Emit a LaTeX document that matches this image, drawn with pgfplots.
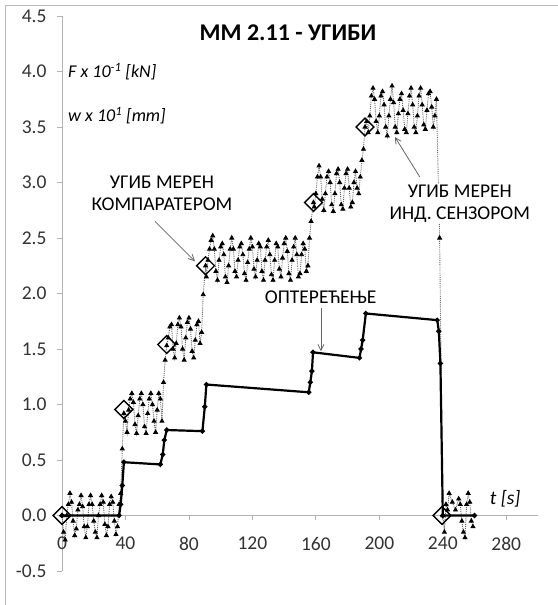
\documentclass[border=0pt]{standalone}
\usepackage{pgfplots}
\pgfplotsset{compat=1.18}
\usepackage{fontspec}
\setmainfont{Carlito}
\usetikzlibrary{arrows.meta}
\pgfplotstableread{
t v
0 0
36 0
37 0.1
38 0.27
39 0.48
62 0.46
63.5 0.55
64.5 0.68
66 0.77
88.5 0.76
90 0.98
91 1.18
155.5 1.11
156.5 1.2
157.5 1.3
158.2 1.47
187.5 1.42
188.5 1.5
189.5 1.58
191.5 1.82
236.5 1.76
237.5 1.66
238.5 1.37
240 0
260 0
}\load
\pgfplotstableread{
t v
0 0
39 0.955
66 1.54
90.5 2.25
158.5 2.82
191 3.50
239.5 0
}\comp
\pgfplotstableread{
t v
0 0.0
1 -0.15
2 -0.22
3 0.0
4 0.1
5 0.2
6 0.12
7 -0.05
8 -0.18
9 -0.12
10 0.05
11 0.1
12 0.18
13 0.08
14 -0.1
15 -0.2
16 -0.1
17 0.1
18 0.18
19 0.1
20 -0.05
21 -0.15
22 -0.2
23 0.0
24 0.1
25 0.18
26 0.12
27 -0.08
28 -0.18
29 -0.1
30 0.1
31 0.17
32 0.12
33 -0.05
34 -0.17
35 -0.1
36 0.1
37 0.2
38 0.6
39 0.92
40 0.85
41 0.75
42 0.95
43 1.05
44 1.1
45 1.02
46 0.82
47 0.74
48 0.9
49 1.05
50 1.1
51 1.0
52 0.8
53 0.74
54 0.92
55 1.05
56 1.1
57 1.0
58 0.85
59 0.75
60 0.95
61 1.1
62 1.05
63 0.85
64 1.2
65 1.4
66 1.53
67 1.6
68 1.7
69 1.72
70 1.5
71 1.42
72 1.55
73 1.72
74 1.78
75 1.7
76 1.5
77 1.4
78 1.6
79 1.74
80 1.78
81 1.68
82 1.48
83 1.42
84 1.58
85 1.72
86 1.75
87 1.55
88 1.65
89 1.99
90.5 2.25
91 2.15
92 2.3
93 2.4
94 2.48
95 2.52
96 2.4
97 2.2
98 2.12
99 2.3
100 2.42
101 2.45
102 2.35
103 2.15
104 2.1
105 2.25
106 2.4
107 2.5
108 2.4
109 2.2
110 2.15
111 2.3
112 2.42
113 2.45
114 2.35
115 2.18
116 2.12
117 2.28
118 2.4
119 2.5
120 2.42
121 2.22
122 2.15
123 2.3
124 2.45
125 2.42
126 2.2
127 2.12
128 2.3
129 2.42
130 2.48
131 2.35
132 2.17
133 2.12
134 2.3
135 2.45
136 2.42
137 2.22
138 2.15
139 2.32
140 2.45
141 2.5
142 2.38
143 2.18
144 2.12
145 2.3
146 2.42
147 2.5
148 2.35
149 2.15
150 2.18
151 2.35
152 2.45
153 2.4
154 2.2
155 2.25
156 2.5
157 2.65
158.5 2.82
159 2.78
160 2.9
161 3.05
162 3.15
163 3.05
164 2.85
165 2.75
166 2.9
167 3.05
168 3.1
169 3.0
170 2.8
171 2.74
172 2.9
173 3.08
174 3.12
175 3.0
176 2.8
177 2.76
178 2.95
179 3.08
180 3.12
181 2.95
182 2.78
183 2.82
184 3.0
185 3.1
186 2.95
187 2.9
188 3.05
189 3.2
190 3.3
191 3.5
192 3.55
193 3.45
194 3.6
195 3.78
196 3.85
197 3.75
198 3.55
199 3.45
200 3.6
201 3.78
202 3.82
203 3.7
204 3.5
205 3.42
206 3.6
207 3.75
208 3.87
209 3.72
210 3.5
211 3.45
212 3.62
213 3.75
214 3.8
215 3.65
216 3.48
217 3.45
218 3.62
219 3.78
220 3.85
221 3.7
222 3.5
223 3.45
224 3.6
225 3.78
226 3.85
227 3.7
228 3.52
229 3.48
230 3.65
231 3.8
232 3.82
233 3.68
234 3.5
235 3.6
236 3.75
238 2.5
240 0
241 -0.15
242 0.1
243 0.05
244 0.2
246 0.12
248 0.05
250 0.15
251 0.1
252 -0.05
253 -0.15
254 -0.2
255 0.1
256 0.2
257 0.12
258 -0.05
259 -0.1
}\sensor
\begin{document}
\begin{tikzpicture}
\useasboundingbox (0,0) rectangle (558bp,605bp);
\draw[gray!55, line width=0.8bp] (5bp,-20bp) rectangle (620bp,600bp);
\begin{axis}[
  at={(62bp,34bp)}, anchor=south west,
  scale only axis, width=476bp, height=555bp,
  xmin=0, xmax=300, ymin=-0.5, ymax=4.5,
  axis x line=middle, axis y line=left,
  hide obscured x ticks=false, hide obscured y ticks=false,
  every inner x axis line/.append style={-},
  every outer y axis line/.append style={-},
  axis line style={draw=gray!60, line width=0.8bp, -},
  xtick={0,40,...,280}, ytick={-0.5,0,...,4.5},
  tick align=outside, major tick length=5bp,
  tick style={draw=gray!60, line width=0.8bp},
  minor tick num=0,
  /pgf/number format/assume math mode=true,
  yticklabel style={/pgf/number format/fixed, /pgf/number format/fixed zerofill, /pgf/number format/precision=1, xshift=-7bp},
  tick label style={font=\fontsize{19.5bp}{22bp}\selectfont, text=black!80},
  xticklabel style={yshift=-13bp},
  clip=false,
]
\addplot[black!60, densely dotted, line width=0.9bp, mark=triangle*, mark size=2.2bp,
  mark options={solid, fill=black, draw=black}] table[x=t,y=v] {\sensor};
\addplot[black, line width=2.2bp, mark=*, mark size=1.3bp] table[x=t,y=v] {\load};
\addplot[only marks, mark=square, mark size=6.3bp, mark options={rotate=45, draw=black, line width=1.4bp, fill=none}] table[x=t,y=v] {\comp};
\node[font=\fontsize{24bp}{28bp}\selectfont\bfseries] at (axis cs:142.4,4.35) {ММ 2.11 - УГИБИ};
\node[font=\fontsize{18bp}{20bp}\selectfont\itshape, anchor=west, inner sep=0pt] at (axis cs:3.8,4.0) {F x 10\textsuperscript{-1} [kN]};
\node[font=\fontsize{18bp}{20bp}\selectfont\itshape, anchor=west, inner sep=0pt] at (axis cs:3.8,3.6) {w x 10\textsuperscript{1} [mm]};
\node[font=\fontsize{19.5bp}{22bp}\selectfont, align=center] at (axis cs:63,2.90) {УГИБ МЕРЕН\\КОМПАРАТЕРОМ};
\node[font=\fontsize{19.5bp}{22bp}\selectfont, align=center, fill=white, inner sep=1bp] at (axis cs:250.7,2.81) {УГИБ МЕРЕН\\ИНД. СЕНЗОРОМ};
\node[font=\fontsize{19.5bp}{22bp}\selectfont, fill=white, inner sep=1bp] at (axis cs:163,1.97) {ОПТЕРЕЋЕЊЕ};
\node[font=\fontsize{19.5bp}{22bp}\selectfont\itshape, anchor=west, inner sep=0pt] at (axis cs:269.6,0.15) {t [s]};
\draw[black!60, line width=0.8bp, -{Straight Barb[length=6bp,width=6bp]}] (axis cs:58.6,2.65) -- (axis cs:83.8,2.29);
\draw[black!60, line width=0.8bp, -{Straight Barb[length=6bp,width=6bp]}] (axis cs:225.5,3.05) -- (axis cs:209.8,3.41);
\draw[black!60, line width=0.8bp, -{Straight Barb[length=6bp,width=6bp]}] (axis cs:163.2,1.87) -- (axis cs:163.2,1.48);
\end{axis}
\end{tikzpicture}
\end{document}
